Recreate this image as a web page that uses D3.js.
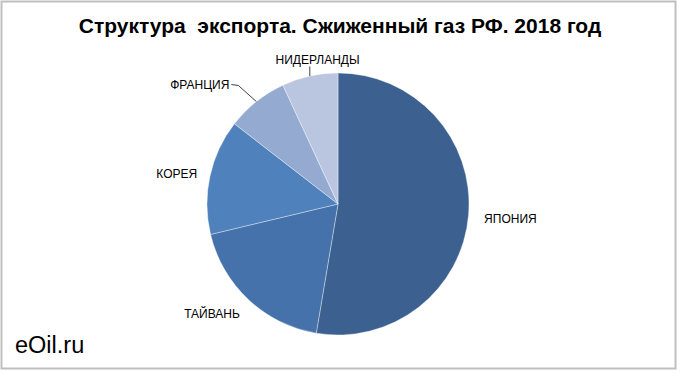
<!DOCTYPE html>
<html><head><meta charset="utf-8">
<script src="https://cdnjs.cloudflare.com/ajax/libs/d3/7.8.5/d3.min.js"></script>
<style>body{margin:0;background:#fff}svg{display:block;font-family:"Liberation Sans",Arial,sans-serif}</style>
</head><body><svg id="c" width="680" height="375"></svg>
<script>
const categories = ["ЯПОНИЯ", "ТАЙВАНЬ", "КОРЕЯ", "ФРАНЦИЯ", "НИДЕРЛАНДЫ"];
const values = [52.6, 18.6, 14.2, 7.6, 6.9];
const titleText = "Структура  экспорта. Сжиженный газ РФ. 2018 год";
const watermark = "eOil.ru";

const colors = ["#3c6191", "#4572aa", "#4f81bd", "#94aad0", "#bac6e0"];
// label layout: radius from centre, extra shift, leader line
const labelLayout = [
  {r: 173, dx: 0, dy: 0, leader: false},
  {r: 167, dx: -12, dy: -12, leader: false},
  {r: 165, dx: 0, dy: 5, leader: false},
  {r: 172, dx: -31, dy: 15, leader: true},
  {r: 146, dx: 11, dy: -2, leader: true}
];

const svg = d3.select("#c");
svg.append("rect").attr("x", 1.5).attr("y", 1.5).attr("width", 674).attr("height", 367)
  .attr("fill", "#fff").attr("stroke", "#bfbfbf").attr("stroke-width", 2);

svg.append("text").attr("x", 340).attr("y", 33).attr("text-anchor", "middle")
  .attr("font-weight", "bold").attr("font-size", 21).attr("xml:space", "preserve")
  .style("white-space", "pre").text(titleText);

const cx = 338, cy = 204, R = 131;
const pie = d3.pie().sort(null).value(d => d)(values);
const arc = d3.arc().innerRadius(0).outerRadius(R);
const g = svg.append("g").attr("transform", `translate(${cx},${cy})`);
g.selectAll("path").data(pie).join("path")
  .attr("d", arc).attr("fill", (d, i) => colors[i])
  .attr("stroke", "rgba(255,255,255,0.45)").attr("stroke-width", 0.8);

function pt(a, r) { return [Math.sin(a) * r, -Math.cos(a) * r]; }

pie.forEach((d, i) => {
  const L = labelLayout[i];
  const mid = (d.startAngle + d.endAngle) / 2;
  const p = pt(mid, L.r);
  const x = p[0] + L.dx, y = p[1] + L.dy;
  const t = g.append("text").attr("x", x).attr("y", y).attr("dy", "0.35em")
    .attr("text-anchor", "middle").attr("font-size", 12).attr("fill", "#000").text(categories[i]);
  if (L.leader) {
    const e = pt(mid, R);
    const w = t.node().getComputedTextLength();
    let pts;
    if (i === 3) {
      const sx = x + w / 2 + 2;
      pts = [[sx, y], [sx + 7, y + 1], e];
    } else {
      pts = [[e[0], y + 7], e];
    }
    g.append("path").attr("d", d3.line()(pts)).attr("fill", "none")
      .attr("stroke", "#404040").attr("stroke-width", 1);
  }
});

svg.append("text").attr("x", 15).attr("y", 353).attr("font-size", 23.5).attr("fill", "#000").text(watermark);
</script></body></html>
